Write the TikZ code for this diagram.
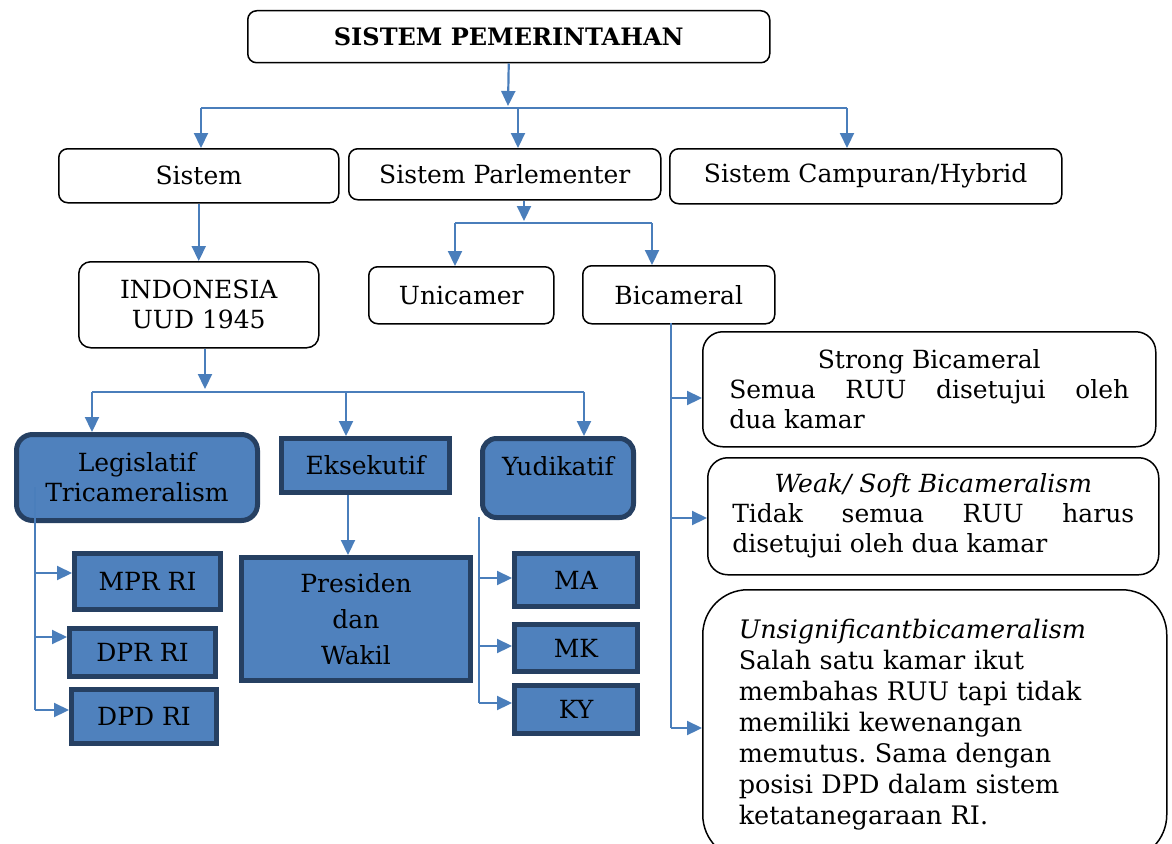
\documentclass[tikz,border=0pt]{standalone}
\usepackage{fontspec}
\setmainfont{DejaVu Serif}
\usetikzlibrary{arrows.meta}
\definecolor{arrowblue}{RGB}{74,126,187}
\definecolor{fillblue}{RGB}{79,129,189}
\definecolor{darknavy}{RGB}{38,64,98}
\newcommand{\bfs}{\fontsize{25}{30}\selectfont}
\frenchspacing
\begin{document}
\begin{tikzpicture}[x=1pt,y=-1pt,
  wbox/.style={draw=black, line width=1.5pt, rounded corners=9pt, fill=white,
    anchor=north west, inner sep=0pt, align=center, font=\bfs},
  bbox/.style={draw=darknavy, line width=5pt, fill=fillblue,
    anchor=north west, inner sep=0pt, align=center, font=\bfs},
  conn/.style={draw=arrowblue, line width=2.2pt},
  arr/.style={conn, -{Triangle[length=15pt,width=14pt]}},
]
\useasboundingbox (0,0) rectangle (1172,843);
\clip (0,0) rectangle (1172,843);

% top level
\node[wbox, minimum width=522pt, minimum height=52pt, font=\fontsize{24}{29}\selectfont] (top) at (247,10) {\textbf{SISTEM PEMERINTAHAN}};
\node[wbox, minimum width=280pt, minimum height=54pt] (sistem) at (58,148) {Sistem};
\node[wbox, minimum width=312pt, minimum height=51pt] (parl) at (348,148) {Sistem Parlementer};
\node[wbox, minimum width=392pt, minimum height=55pt] (camp) at (669,148) {Sistem Campuran/Hybrid};
\node[wbox, minimum width=240pt, minimum height=86pt, rounded corners=12pt] (indo) at (78,261) {INDONESIA\\UUD 1945};
\node[wbox, minimum width=185pt, minimum height=57pt] (uni) at (368,266) {Unicamer};
\node[wbox, minimum width=192pt, minimum height=58pt] (bic) at (582,265) {Bicameral};

% blue boxes
\node[bbox, rounded corners=16pt, minimum width=241pt, minimum height=86pt] (leg) at (14,432) {Legislatif\\Tricameralism};
\node[bbox, minimum width=168pt, minimum height=54pt] (eks) at (279,436) {Eksekutif};
\node[bbox, rounded corners=14pt, minimum width=151pt, minimum height=79pt] (yud) at (480,436) {Yudikatif\\[-6pt]\mbox{}};
\node[bbox, minimum width=229pt, minimum height=123pt, font=\fontsize{25}{36}\selectfont] (pres) at (239,555) {Presiden\\dan\\Wakil};
\node[bbox, minimum width=146pt, minimum height=56pt] (mpr) at (72,551) {MPR RI};
\node[bbox, minimum width=146pt, minimum height=48pt] (dpr) at (67,626) {DPR RI};
\node[bbox, minimum width=145pt, minimum height=54pt] (dpd) at (69,687) {DPD RI};
\node[bbox, minimum width=123pt, minimum height=53pt] (ma) at (512,551) {MA};
\node[bbox, minimum width=123pt, minimum height=47pt] (mk) at (512,622) {MK};
\node[bbox, minimum width=123pt, minimum height=48pt] (ky) at (512,683) {KY};

% bicameral types
\node[wbox, rounded corners=20pt, minimum width=453pt, minimum height=115pt] (strong) at (702,331)
  {Strong Bicameral\\\makebox[400pt][s]{Semua RUU disetujui oleh}\\\makebox[400pt][l]{dua kamar}};
\node[wbox, rounded corners=20pt, minimum width=451pt, minimum height=117pt] (weak) at (707,457)
  {\textit{Weak/ Soft Bicameralism}\\\makebox[402pt][s]{Tidak semua RUU harus}\\\makebox[402pt][l]{disetujui oleh dua kamar}};
\node[wbox, rounded corners=45pt, minimum width=464pt, minimum height=270pt, align=left,
      text width=392pt, inner xsep=0pt, font=\fontsize{25.5}{31}\selectfont] (uns) at (702,589)
  {\textit{Unsignificantbicameralism}\\Salah satu kamar ikut\\membahas RUU tapi tidak\\memiliki kewenangan\\memutus. Sama dengan\\posisi DPD dalam sistem\\ketatanegaraan RI.};

% connectors: top
\coordinate (h0) at (508,106);
\coordinate (hl) at (201,108);
\coordinate (hm) at (518,108);
\coordinate (hr) at (847,108);
\draw[arr] (top.south) -- (h0);
\draw[conn] (hl) -- (hr);
\draw[arr] (hl) -- (hl |- sistem.north);
\draw[arr] (hm) -- (hm |- parl.north);
\draw[arr] (hr) -- (hr |- camp.north);

% sistem -> indonesia
\draw[arr] (sistem.south) -- (sistem.south |- indo.north);

% parlementer -> uni / bic
\coordinate (p0) at (524,221);
\coordinate (pl) at (455,223);
\coordinate (pr) at (652,223);
\draw[arr] (parl.south -| p0) -- (p0);
\draw[conn] (pl) -- (pr);
\draw[arr] (pl) -- (pl |- uni.north);
\draw[arr] (pr) -- (pr |- bic.north);

% indonesia -> branches
\coordinate (i0) at (205,389);
\coordinate (il) at (92,392);
\coordinate (im) at (346,392);
\coordinate (ir) at (584,392);
\draw[arr] (indo.south -| i0) -- (i0);
\draw[conn] (il) -- (ir);
\draw[arr] (il) -- (il |- leg.north);
\draw[arr] (im) -- (im |- eks.north);
\draw[arr] (ir) -- (ir |- yud.north);

% eksekutif -> presiden
\coordinate (e0) at (348,492);
\draw[arr] (eks.south -| e0) -- (e0 |- pres.north);

% legislatif -> chambers
\coordinate (l0) at (35,487);
\coordinate (l1) at (35,573);
\coordinate (l2) at (35,637);
\coordinate (l3) at (35,710);
\draw[conn] (l0) -- (l3);
\draw[arr] (l1) -- (l1 -| mpr.west);
\draw[arr] (l2) -- (l2 -| dpr.west);
\draw[arr] (l3) -- (l3 -| dpd.west);

% yudikatif -> courts
\coordinate (y0) at (479,517);
\coordinate (y1) at (479,578);
\coordinate (y2) at (479,646);
\coordinate (y3) at (479,703);
\draw[conn] (y0) -- (y3);
\draw[arr] (y1) -- (y1 -| ma.west);
\draw[arr] (y2) -- (y2 -| mk.west);
\draw[arr] (y3) -- (y3 -| ky.west);

% bicameral -> types
\coordinate (b0) at (671,323);
\coordinate (b1) at (671,398);
\coordinate (b2) at (671,518);
\coordinate (b3) at (671,728);
\draw[conn] (b0) -- (b3);
\draw[arr] (b1) -- (b1 -| strong.west);
\draw[arr] (b2) -- (b2 -| weak.west);
\draw[arr] (b3) -- (b3 -| uns.west);
\end{tikzpicture}
\end{document}
